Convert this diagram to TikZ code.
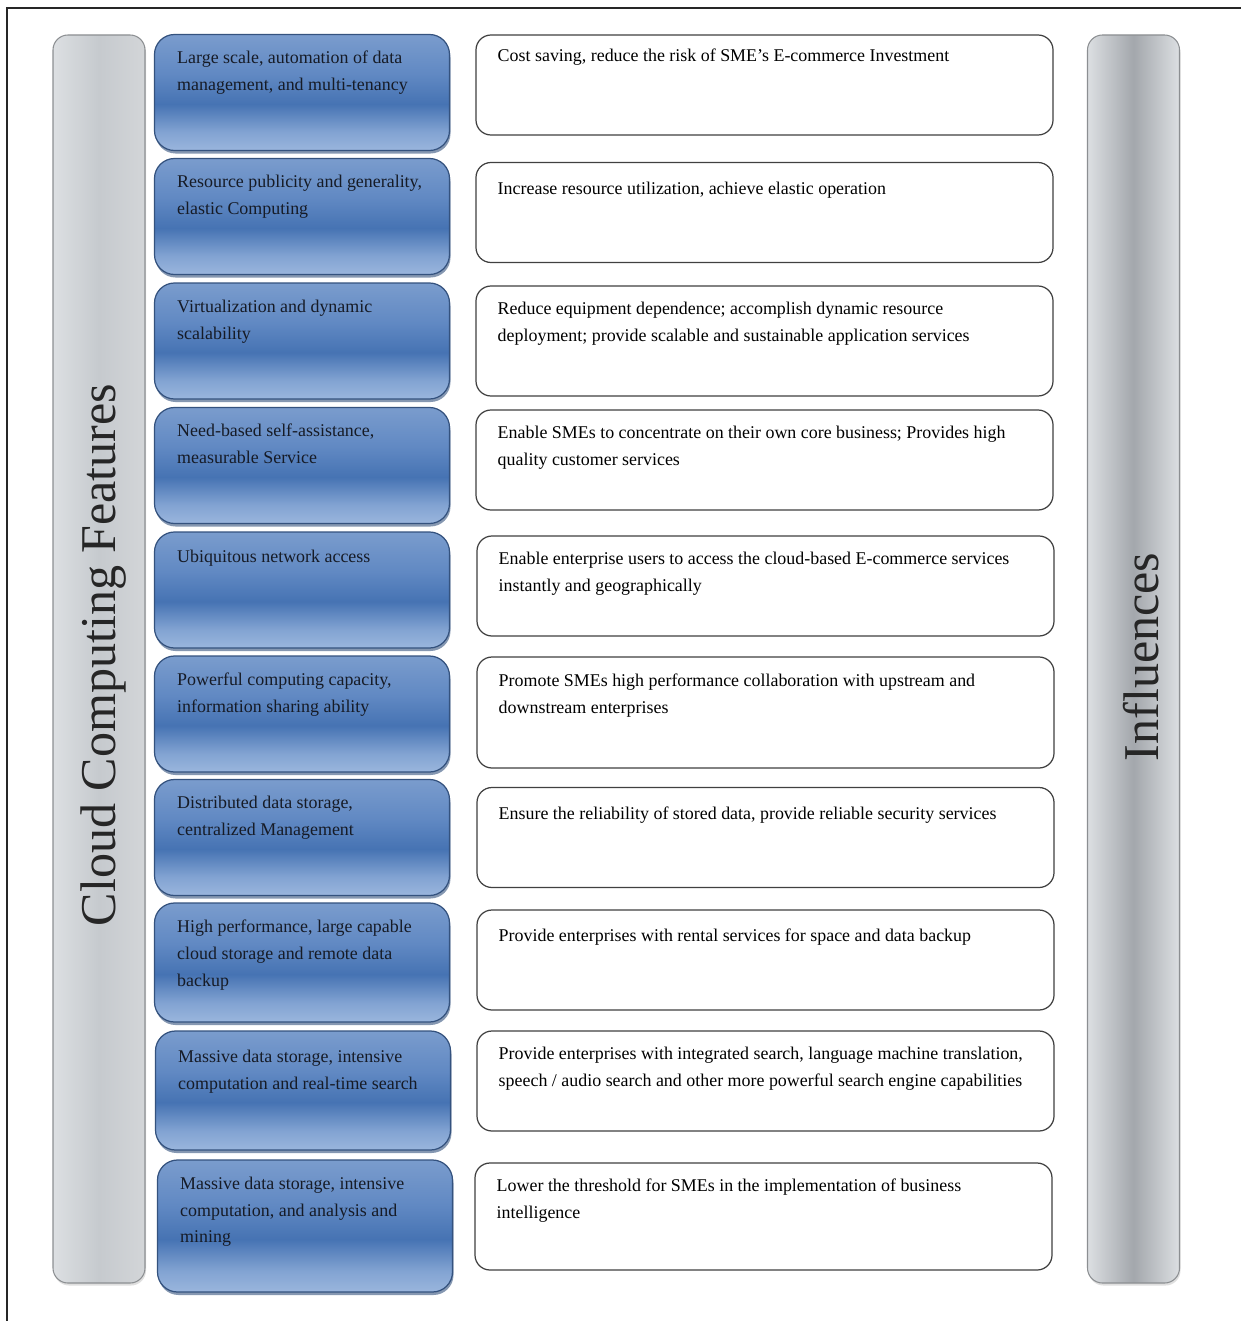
\documentclass[tikz,border=0pt]{standalone}
\usepackage{fontspec}
\setmainfont{Liberation Serif}
\usepackage{tikz}
\usetikzlibrary{shadows}

\definecolor{feattop}{HTML}{7A9CCD}
\definecolor{featmid}{HTML}{6189C3}
\definecolor{featdark}{HTML}{4673B3}
\definecolor{featlow}{HTML}{82A3D2}
\definecolor{featbot}{HTML}{9AB6DD}
\definecolor{featline}{HTML}{34527E}
\definecolor{featink}{HTML}{161B26}
\definecolor{barline}{HTML}{8C8F92}
\definecolor{baredge}{HTML}{DCDFE2}
\definecolor{barcore}{HTML}{C6CACE}
\definecolor{barcoredark}{HTML}{A3A7AC}

% blue fill of the feature boxes, darker band a bit below the middle
\pgfdeclareverticalshading{featblue}{100bp}{color(0bp)=(featbot); color(25bp)=(featbot);
  color(33bp)=(featlow); color(45bp)=(featdark); color(58bp)=(featmid); color(75bp)=(feattop);
  color(100bp)=(feattop)}

\begin{document}
\begin{tikzpicture}[
  x=0.2mm, y=-0.2mm,
  font=\fontsize{10.2}{15.3}\selectfont,
  bar/.style={draw=barline, line width=0.6pt, rounded corners=3mm, inner sep=0pt,
    minimum width=18.4mm, minimum height=249.6mm,
    drop shadow={shadow xshift=0.2mm, shadow yshift=-0.5mm, opacity=0.25}},
  feat/.style={draw=featline, line width=0.7pt, rounded corners=4mm, shade, shading=featblue,
    inner sep=0pt, minimum width=59mm, minimum height=23.2mm,
    drop shadow={shadow xshift=0.2mm, shadow yshift=-0.6mm, fill=featline, opacity=0.6}},
  infl/.style={draw=black!75, line width=0.7pt, rounded corners=3mm, fill=white, inner sep=0pt,
    minimum width=115.4mm, minimum height=20mm},
  txt/.style={anchor=north west, inner sep=0pt, align=left},
  title/.style={rotate=90, font=\fontsize{28.5}{30}\selectfont, text=black!85}
]
\path[use as bounding box, fill=white] (0,0) rectangle (1241,1321);
\draw[line width=0.4mm, black!85] (7,1321) -- (7,8) -- (1241,8);

% side bars
\node[bar, left color=baredge, right color=baredge!90!gray, middle color=barcore] (feats) at (99,659) {};
\node[bar, left color=baredge, right color=baredge, middle color=barcoredark] (infls) at (1133.5,659) {};
\node[title] (featsl) at (104,655) {Cloud Computing Features};
\node[title] (infll) at (1141,657) {Influences};

% feature column
\node[feat] (f1) at (302,92.5) {};
\node[feat] (f2) at (302,216.5) {};
\node[feat] (f3) at (302,341) {};
\node[feat] (f4) at (302,465.5) {};
\node[feat] (f5) at (302,590) {};
\node[feat] (f6) at (302,714) {};
\node[feat] (f7) at (302,837.5) {};
\node[feat, minimum height=23.8mm] (f8) at (302,962.5) {};
\node[feat, minimum height=23.8mm] (f9) at (303,1090.5) {};
\node[feat, minimum height=26.4mm] (f10) at (305,1226) {};

\node[txt, text=featink] (ft1) at ([xshift=4.6mm, yshift=-3.4mm]f1.north west) {Large scale, automation of data\\management, and multi-tenancy};
\node[txt, text=featink] (ft2) at ([xshift=4.6mm, yshift=-3.4mm]f2.north west) {Resource publicity and generality,\\elastic Computing};
\node[txt, text=featink] (ft3) at ([xshift=4.6mm, yshift=-3.4mm]f3.north west) {Virtualization and dynamic\\scalability};
\node[txt, text=featink] (ft4) at ([xshift=4.6mm, yshift=-3.4mm]f4.north west) {Need-based self-assistance,\\measurable Service};
\node[txt, text=featink] (ft5) at ([xshift=4.6mm, yshift=-3.7mm]f5.north west) {Ubiquitous network access};
\node[txt, text=featink] (ft6) at ([xshift=4.6mm, yshift=-3.4mm]f6.north west) {Powerful computing capacity,\\information sharing ability};
\node[txt, text=featink] (ft7) at ([xshift=4.6mm, yshift=-3.4mm]f7.north west) {Distributed data storage,\\centralized Management};
\node[txt, text=featink] (ft8) at ([xshift=4.6mm, yshift=-3.4mm]f8.north west) {High performance, large capable\\cloud storage and remote data\\backup};
\node[txt, text=featink] (ft9) at ([xshift=4.6mm, yshift=-3.9mm]f9.north west) {Massive data storage, intensive\\computation and real-time search};
\node[txt, text=featink] (ft10) at ([xshift=4.6mm, yshift=-3.4mm]f10.north west) {Massive data storage, intensive\\computation, and analysis and\\mining};

% influence column
\node[infl] (i1) at (764.5,85) {};
\node[infl] (i2) at (764.5,212.5) {};
\node[infl, minimum height=22mm] (i3) at (764.5,341) {};
\node[infl] (i4) at (764.5,460) {};
\node[infl] (i5) at (765.5,586) {};
\node[infl, minimum height=22.2mm] (i6) at (765.5,712.5) {};
\node[infl] (i7) at (765.5,837.5) {};
\node[infl] (i8) at (765.5,960) {};
\node[infl] (i9) at (765.5,1081) {};
\node[infl, minimum height=21.4mm] (i10) at (763.5,1216.5) {};

\node[txt] (it1) at ([xshift=4.4mm, yshift=-2.9mm]i1.north west) {Cost saving, reduce the risk of SME's E-commerce Investment};
\node[txt] (it2) at ([xshift=4.4mm, yshift=-3.9mm]i2.north west) {Increase resource utilization, achieve elastic operation};
\node[txt] (it3) at ([xshift=4.4mm, yshift=-3.3mm]i3.north west) {Reduce equipment dependence; accomplish dynamic resource\\deployment; provide scalable and sustainable application services};
\node[txt] (it4) at ([xshift=4.4mm, yshift=-3.3mm]i4.north west) {Enable SMEs to concentrate on their own core business; Provides high\\quality customer services};
\node[txt] (it5) at ([xshift=4.4mm, yshift=-3.3mm]i5.north west) {Enable enterprise users to access the cloud-based E-commerce services\\instantly and geographically};
\node[txt] (it6) at ([xshift=4.4mm, yshift=-3.4mm]i6.north west) {Promote SMEs high performance collaboration with upstream and\\downstream enterprises};
\node[txt] (it7) at ([xshift=4.4mm, yshift=-3.9mm]i7.north west) {Ensure the reliability of stored data, provide reliable security services};
\node[txt] (it8) at ([xshift=4.4mm, yshift=-3.9mm]i8.north west) {Provide enterprises with rental services for space and data backup};
\node[txt] (it9) at ([xshift=4.4mm, yshift=-3.3mm]i9.north west) {Provide enterprises with integrated search, language machine translation,\\speech / audio search and other more powerful search engine capabilities};
\node[txt] (it10) at ([xshift=4.4mm, yshift=-3.3mm]i10.north west) {Lower the threshold for SMEs in the implementation of business\\intelligence};
\end{tikzpicture}
\end{document}
